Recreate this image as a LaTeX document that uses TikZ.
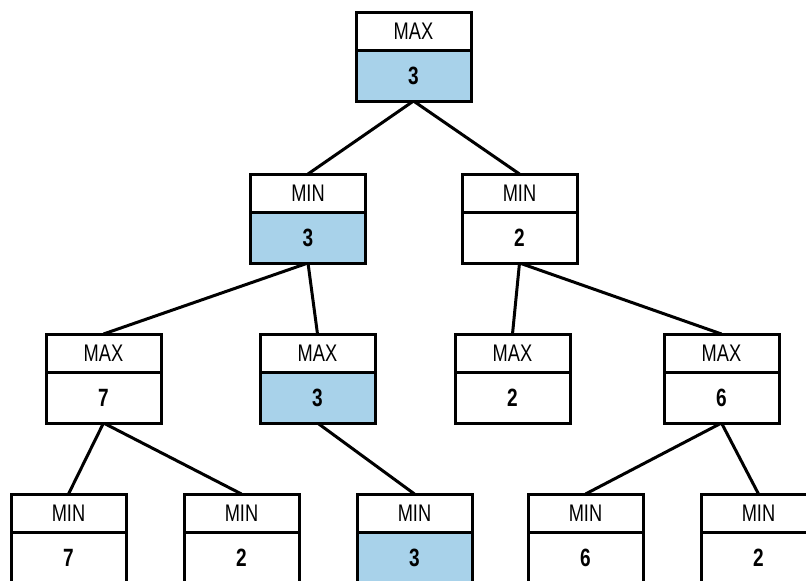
\documentclass[tikz,border=0pt]{standalone}
\usepackage{fontspec}
\setmainfont{Liberation Sans}[FakeStretch=0.76]
\usetikzlibrary{backgrounds}
\definecolor{pathblue}{RGB}{168,210,234}
\tikzset{
  hdr/.style={draw=black, line width=3pt, fill=white, rectangle, anchor=north,
    minimum width=115pt, minimum height=38pt, inner sep=0pt, outer sep=0pt,
    font=\fontsize{24}{24}\selectfont},
  val/.style={draw=black, line width=3pt, fill=white, rectangle, anchor=north,
    minimum width=115pt, minimum height=51pt, inner sep=0pt, outer sep=0pt,
    font=\fontsize{25}{25}\selectfont\bfseries},
  onpath/.style={fill=pathblue},
  link/.style={draw=black, line width=3pt}
}
\newcommand{\treebox}[5][]{%
  \node[hdr] (#2-h) at (#3) {#4};
  \node[val,#1] (#2-v) at (#2-h.south) {#5};
}
\begin{document}
\begin{tikzpicture}[x=1pt,y=-1pt]
\useasboundingbox (0,0) rectangle (806,581);
\clip (0,0) rectangle (806,581);
% root
\treebox[onpath]{r}{413.5,12}{MAX}{3}
% second level
\treebox[onpath]{a}{308,174}{MIN}{3}
\treebox{b}{519.5,174}{MIN}{2}
% third level
\treebox{aa}{103.5,334}{MAX}{7}
\treebox[onpath]{ab}{317.5,334}{MAX}{3}
\treebox{ba}{512.5,334}{MAX}{2}
\treebox{bb}{721.5,334}{MAX}{6}
% leaves
\treebox{aaa}{68.5,494}{MIN}{7}
\treebox{aab}{241.5,494}{MIN}{2}
\treebox[onpath]{aba}{414.5,494}{MIN}{3}
\treebox{bba}{585.5,494}{MIN}{6}
\treebox{bbb}{758.5,494}{MIN}{2}
% connectors
\begin{scope}[on background layer]
\draw[link] (r-v.south) -- (a-h.north);
\draw[link] (r-v.south) -- (b-h.north);
\draw[link] (a-v.south) -- (aa-h.north);
\draw[link] (a-v.south) -- (ab-h.north);
\draw[link] (b-v.south) -- (ba-h.north);
\draw[link] (b-v.south) -- (bb-h.north);
\draw[link] (aa-v.south) -- (aaa-h.north);
\draw[link] (aa-v.south) -- (aab-h.north);
\draw[link] (ab-v.south) -- (aba-h.north);
\draw[link] (bb-v.south) -- (bba-h.north);
\draw[link] (bb-v.south) -- (bbb-h.north);
\end{scope}
\end{tikzpicture}
\end{document}
